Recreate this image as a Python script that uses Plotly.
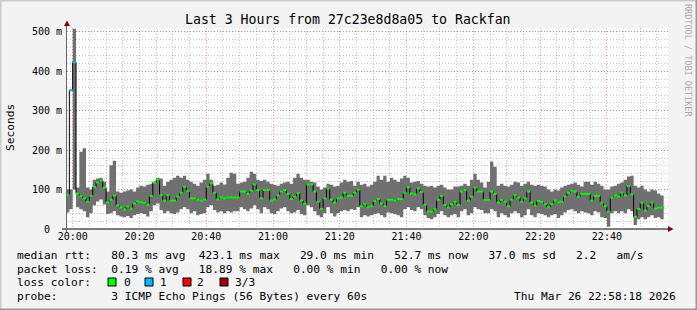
import pandas as pd
import plotly.graph_objects as go

# ---------------- data (ms) ----------------
start_time = "2026-03-26 19:58"
median_ms = [86, 352, 423, 90, 84, 78, 69, 84, 107, 118,
             123, 105, 68, 74, 85, 60, 55, 50, 57, 52,
             65, 70, 68, 66, 61, 84, 118, 125, 86, 72,
             86, 72, 72, 82, 92, 107,
             96, 78, 78, 74, 72, 75, 107, 116, 92, 75,
             80, 78, 80, 80, 80, 80, 95, 95, 89, 97,
             113, 99, 78, 99, 99, 72, 75, 85, 95, 99,
             89, 76, 82, 91, 72, 64,
             113, 113, 95, 69, 51, 78, 103, 75, 67, 78,
             80, 92, 84, 84, 92, 100, 58, 63, 55, 58,
             71, 76, 65, 58, 74, 74, 72, 76, 76, 92,
             106, 90, 88, 103, 94, 61,
             44, 44, 50, 74, 84, 61, 54, 63, 69, 61,
             95, 99, 72, 82, 105, 95, 95, 74, 74, 95,
             89, 67, 74, 69, 58, 74, 86, 80, 69, 78,
             95, 67, 59, 71, 69, 63,
             55, 63, 72, 68, 69, 82, 92, 97, 95, 82,
             89, 89, 89, 72, 84, 84, 67, 58, 44, 80,
             85, 82, 92, 85, 109, 88, 31, 51, 67, 47,
             58, 67, 52, 54, 54]
smoke_lo = [42, 50, 100, 55, 50, 45, 30, 40, 60, 70,
            75, 62, 38, 40, 45, 35, 32, 30, 33, 28,
            35, 38, 40, 38, 32, 45, 60, 65, 48, 40,
            45, 40, 38, 42, 50, 55,
            50, 40, 45, 35, 38, 40, 55, 60, 48, 42,
            45, 40, 45, 42, 45, 45, 55, 50, 45, 52,
            60, 50, 40, 55, 50, 40, 38, 45, 52, 55,
            45, 40, 42, 48, 38, 35,
            60, 55, 45, 35, 30, 40, 55, 40, 32, 40,
            45, 48, 45, 50, 48, 55, 30, 35, 32, 35,
            38, 40, 35, 30, 42, 40, 38, 35, 30, 50,
            55, 48, 45, 55, 50, 35,
            28, 25, 30, 38, 45, 35, 30, 35, 38, 30,
            45, 50, 35, 40, 55, 50, 48, 40, 40, 50,
            45, 30, 40, 35, 30, 40, 45, 40, 30, 35,
            50, 35, 30, 40, 38, 35,
            30, 35, 38, 28, 35, 42, 48, 50, 45, 40,
            45, 42, 40, 35, 45, 42, 30, 28, 6, 40,
            45, 40, 45, 40, 50, 45, 10, 25, 30, 25,
            30, 35, 28, 30, 25]
smoke_hi = [100, 100, 508, 105, 196, 205, 105, 100, 125, 128,
            130, 120, 95, 162, 173, 95, 92, 95, 98, 100,
            95, 105, 110, 108, 112, 115, 120, 130, 128, 110,
            120, 125, 130, 135, 130, 135,
            125, 120, 115, 110, 118, 125, 140, 125, 110, 112,
            118, 113, 130, 143, 140, 115, 118, 120, 130, 145,
            140, 125, 122, 125, 120, 115, 112, 110, 115, 118,
            120, 115, 130, 140, 130, 125,
            125, 120, 118, 108, 100, 105, 115, 112, 108, 110,
            118, 125, 120, 122, 110, 120, 112, 115, 108, 112,
            120, 135, 125, 135, 120, 130, 125, 120, 128, 135,
            130, 118, 120, 122, 115, 110,
            108, 110, 105, 110, 112, 105, 100, 100, 108, 108,
            110, 115, 110, 125, 140, 125, 118, 105, 120, 171,
            158, 110, 115, 110, 108, 112, 120, 118, 110, 115,
            120, 112, 110, 112, 110, 108,
            100, 95, 100, 98, 105, 110, 112, 115, 118, 112,
            108, 120, 120, 112, 120, 115, 110, 100, 100, 108,
            110, 115, 118, 125, 133, 135, 110, 105, 110, 100,
            95, 100, 98, 90, 85]
loss_count = [0] * len(median_ms)
loss_count[1] = 1
loss_count[2] = 1

loss_colors = ["#00ff00", "#00b8ff", "#ff0000", "#a00000"]
loss_labels = ["0", "1", "2", "3/3"]
y_tick_vals = [0, 100, 200, 300, 400, 500]
y_tick_text = ["0\u00a0\u00a0", "100 m", "200 m", "300 m", "400 m", "500 m"]

legend_line1 = "median rtt:   80.3 ms avg  423.1 ms max   29.0 ms min   52.7 ms now   37.0 ms sd   2.2   am/s"
legend_line2 = "packet loss:  0.19 % avg   18.89 % max   0.00 % min   0.00 % now"
legend_line3 = "loss color:"
legend_line4 = "probe:        3 ICMP Echo Pings (56 Bytes) every 60s"
stamp = "Thu Mar 26 22:58:18 2026"

# ---------------- derived ----------------
n = len(median_ms)
starts = pd.date_range(start_time, periods=n, freq="min")
ends = starts + pd.Timedelta(seconds=60)
step_x = list(starts) + [ends[-1]]

MONO = "DejaVu Sans Mono"
L, R, T, B = 67, 668, 28, 229
SMOKE = "#707070"


def PX(px):
    return (px - L) / (R - L)


def PY(py):
    return (B - py) / (B - T)


fig = go.Figure()

# smoke: filled band between the per-minute min and max
fig.add_trace(go.Scatter(
    x=step_x, y=smoke_lo + [smoke_lo[-1]], mode="lines",
    line=dict(width=0, shape="hv", color=SMOKE), hoverinfo="skip"))
fig.add_trace(go.Scatter(
    x=step_x, y=smoke_hi + [smoke_hi[-1]], mode="lines",
    line=dict(width=0, shape="hv", color=SMOKE),
    fill="tonexty", fillcolor=SMOKE, hoverinfo="skip"))

# black step line of median
fig.add_trace(go.Scatter(
    x=step_x, y=median_ms + [median_ms[-1]],
    mode="lines", line=dict(color="black", width=1, shape="hv"),
    hoverinfo="skip"))

# coloured median segments by loss
for lvl, col in enumerate(loss_colors):
    xs, ys = [], []
    for s, e, m, lc in zip(starts, ends, median_ms, loss_count):
        if lc == lvl:
            xs += [s, e, None]
            ys += [m, m, None]
    if xs:
        fig.add_trace(go.Scatter(x=xs, y=ys, mode="lines",
                                 line=dict(color=col, width=2),
                                 hoverinfo="skip"))

fig.update_layout(
    width=697, height=310,
    margin=dict(l=L, r=697 - R, t=T, b=310 - B),
    paper_bgcolor="#f3f3f3", plot_bgcolor="white",
    showlegend=False,
    font=dict(family=MONO, color="black"),
)

MAJOR = "rgba(225,90,90,0.55)"
MINOR = "rgba(140,140,140,0.45)"
fig.update_xaxes(
    type="date",
    range=["2026-03-26 19:58:18", "2026-03-26 22:58:18"],
    tick0="2026-03-26 20:00", dtick=1200000, tickformat="%H:%M",
    ticks="", showline=False, zeroline=False,
    showgrid=True, gridcolor=MAJOR, griddash="1px,2px", gridwidth=1,
    minor=dict(dtick=300000, tick0="2026-03-26 20:00", showgrid=True,
               gridcolor=MINOR, griddash="1px,2px", gridwidth=1),
    tickfont=dict(family=MONO, size=10, color="black"),
    fixedrange=True,
)
fig.update_yaxes(
    range=[0, 510], tickvals=y_tick_vals, ticktext=y_tick_text,
    ticks="", showline=False, zeroline=False,
    showgrid=True, gridcolor=MAJOR, griddash="1px,2px", gridwidth=1,
    minor=dict(dtick=20, tick0=0, showgrid=True,
               gridcolor=MINOR, griddash="1px,2px", gridwidth=1),
    tickfont=dict(family=MONO, size=10, color="black"),
    ticklabelstandoff=4,
    fixedrange=True,
)

shapes = []
shapes.append(dict(type="line", xref="paper", yref="paper",
                   x0=PX(62), x1=PX(669), y0=0, y1=0,
                   line=dict(color="black", width=1)))
shapes.append(dict(type="line", xref="paper", yref="paper",
                   x0=PX(66.5), x1=PX(66.5), y0=PY(232), y1=PY(24),
                   line=dict(color="#666666", width=1)))
shapes.append(dict(type="path", xref="paper", yref="paper",
                   path=f"M {PX(64)} {PY(26)} L {PX(67)} {PY(20.5)} L {PX(70)} {PY(26)} Z",
                   fillcolor="#7f0000", line=dict(width=0)))
shapes.append(dict(type="path", xref="paper", yref="paper",
                   path=f"M {PX(668)} {PY(226)} L {PX(673.5)} {PY(229)} L {PX(668)} {PY(232)} Z",
                   fillcolor="#7f0000", line=dict(width=0)))
shapes.append(dict(type="line", xref="paper", yref="paper",
                   x0=PX(0), x1=PX(697), y0=PY(0.5), y1=PY(0.5),
                   line=dict(color="#cbcbcb", width=2)))
shapes.append(dict(type="line", xref="paper", yref="paper",
                   x0=PX(0.5), x1=PX(0.5), y0=PY(0), y1=PY(310),
                   line=dict(color="#cbcbcb", width=2)))
shapes.append(dict(type="line", xref="paper", yref="paper",
                   x0=PX(0), x1=PX(697), y0=PY(309.5), y1=PY(309.5),
                   line=dict(color="#999999", width=2)))
shapes.append(dict(type="line", xref="paper", yref="paper",
                   x0=PX(696.5), x1=PX(696.5), y0=PY(0), y1=PY(310),
                   line=dict(color="#999999", width=2)))
box_x = [108, 145, 183, 220]
label_x = [123, 159, 196, 234]
for bx, col in zip(box_x, loss_colors):
    shapes.append(dict(type="rect", xref="paper", yref="paper",
                       x0=PX(bx), x1=PX(bx + 8), y0=PY(286), y1=PY(278),
                       fillcolor=col, line=dict(color="black", width=1)))
fig.update_layout(shapes=shapes)

ann = []
LEG = 11.2


def text(px, py, s, size=LEG, anchor="left", color="black", angle=0):
    ann.append(dict(xref="paper", yref="paper", x=PX(px), y=PY(py),
                    text=s.replace(" ", "\u00a0"),
                    showarrow=False, xanchor=anchor, yanchor="middle",
                    textangle=angle, borderpad=0,
                    font=dict(family=MONO, size=size, color=color)))


text(348, 19, "Last 3 Hours from 27c23e8d8a05 to Rackfan", size=13.2, anchor="center")
text(11, 128, "Seconds", anchor="center", angle=-90)
text(688, 60, "RRDTOOL / TOBI OETIKER", size=8.5, anchor="center",
     color="#aaaaaa", angle=90)

text(16, 255, legend_line1)
text(16, 269, legend_line2)
text(16, 282, legend_line3)
for lx, lab in zip(label_x, loss_labels):
    text(lx, 282, lab)
text(16, 296, legend_line4)
text(513, 296, stamp)

fig.update_layout(annotations=ann)
fig.write_html("out.html")
